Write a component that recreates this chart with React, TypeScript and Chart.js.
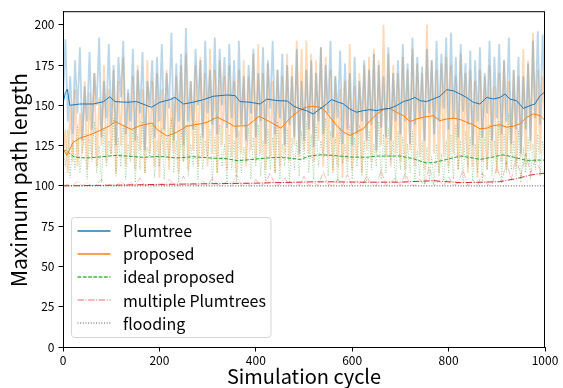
import React, { useEffect, useRef } from "react";
import { Chart, registerables } from "chart.js";

Chart.register(...registerables);

const FONT = '"Noto Sans CJK JP", "Noto Sans", "DejaVu Sans", sans-serif';

const xTickValues = [0, 200, 400, 600, 800, 1000];
const yTickValues = [0, 25, 50, 75, 100, 125, 150, 175, 200];
const xAxisTitle = "Simulation cycle";
const yAxisTitle = "Maximum path length";
const seriesNames = ["Plumtree", "proposed", "ideal proposed", "multiple Plumtrees", "flooding"];

// raw (faint) series, one value every 5 cycles
const rawStep = 5;
const plumtreeRaw = [
  155, 191, 140, 168, 132, 178, 145, 186, 128, 162,
  140, 183, 135, 170, 150, 192, 130, 165, 142, 188,
  138, 175, 125, 180, 155, 190, 132, 160, 140, 185,
  128, 172, 145, 183, 122, 165, 150, 178, 130, 180,
  140, 188, 135, 170, 148, 195, 128, 176, 140, 182,
  125, 198, 140, 165, 135, 185, 150, 178, 130, 190,
  145, 172, 138, 192, 132, 185, 150, 180, 136, 188,
  142, 178, 130, 190, 138, 168, 128, 175, 145, 185,
  130, 170, 140, 186, 126, 178, 148, 190, 132, 172,
  142, 182, 125, 175, 138, 168, 130, 185, 120, 165,
  128, 172, 135, 178, 124, 170, 140, 186, 132, 175,
  145, 190, 130, 168, 142, 184, 126, 176, 135, 170,
  125, 180, 132, 165, 140, 178, 128, 172, 138, 182,
  122, 175, 136, 168, 130, 186, 128, 170, 140, 178,
  132, 188, 140, 176, 126, 192, 138, 180, 142, 174,
  128, 185, 145, 178, 132, 190, 140, 182, 148, 192,
  135, 195, 142, 180, 130, 188, 146, 176, 138, 184,
  125, 178, 140, 186, 130, 170, 145, 190, 128, 180,
  142, 188, 132, 178, 140, 192, 126, 172, 135, 180,
  120, 168, 135, 176, 128, 190, 142, 196, 138, 194,
  150,
];
const proposedRaw = [
  118, 135, 108, 150, 115, 160, 112, 145, 120, 165,
  110, 158, 118, 170, 112, 155, 125, 175, 115, 160,
  120, 172, 108, 165, 125, 180, 112, 158, 118, 168,
  110, 175, 122, 160, 108, 178, 120, 165, 112, 170,
  105, 160, 118, 172, 110, 155, 120, 168, 108, 175,
  115, 182, 110, 165, 122, 175, 112, 180, 118, 170,
  112, 185, 120, 172, 108, 178, 125, 168, 110, 175,
  118, 165, 108, 172, 120, 178, 112, 168, 122, 182,
  115, 188, 120, 170, 110, 176, 118, 165, 108, 172,
  112, 168, 120, 182, 115, 175, 125, 190, 118, 185,
  122, 190, 120, 182, 115, 178, 128, 186, 112, 180,
  118, 172, 108, 168, 112, 160, 105, 165, 115, 188,
  110, 162, 118, 170, 108, 175, 122, 180, 115, 185,
  120, 178, 125, 200, 118, 182, 112, 175, 120, 170,
  115, 180, 110, 172, 122, 185, 112, 176, 118, 170,
  110, 200, 115, 178, 120, 172, 108, 176, 118, 180,
  112, 175, 120, 168, 110, 182, 118, 170, 108, 172,
  112, 165, 105, 172, 115, 168, 110, 175, 118, 162,
  108, 170, 115, 178, 110, 165, 120, 172, 112, 168,
  118, 185, 112, 178, 122, 195, 115, 172, 120, 168,
  140,
];
const idealRaw = [
  125, 112, 135, 105, 128, 110, 138, 108, 122, 132,
  104, 130, 115, 140, 108, 125, 102, 136, 112, 128,
  118, 142, 106, 130, 112, 138, 104, 126, 115, 135,
  102, 132, 110, 140, 108, 124, 118, 138, 105, 128,
  112, 136, 104, 130, 116, 142, 108, 128, 102, 134,
  115, 138, 106, 126, 112, 140, 104, 132, 110, 128,
  118, 135, 102, 130, 108, 138, 112, 126, 104, 132,
  110, 128, 102, 134, 108, 124, 115, 136, 104, 130,
  112, 138, 106, 128, 102, 135, 110, 130, 108, 140,
  104, 126, 112, 136, 102, 130, 110, 128, 106, 134,
  115, 140, 108, 132, 104, 138, 112, 128, 118, 142,
  106, 134, 110, 130, 102, 136, 114, 126, 108, 138,
  104, 130, 112, 138, 106, 128, 102, 134, 110, 126,
  112, 140, 104, 132, 108, 136, 115, 128, 102, 134,
  110, 130, 104, 126, 108, 134, 102, 122, 106, 128,
  101, 124, 104, 118, 102, 126, 106, 120, 103, 128,
  108, 132, 104, 138, 110, 128, 102, 134, 112, 130,
  104, 126, 108, 136, 102, 130, 110, 138, 106, 128,
  112, 140, 104, 132, 108, 145, 110, 128, 106, 134,
  102, 124, 108, 130, 104, 126, 110, 132, 106, 128,
  116,
];
// one value every 10 cycles
const multiStep = 10;
const multiRaw = [
  100, 101, 100, 103, 100, 102, 100, 101, 104, 100,
  101, 100, 103, 100, 102, 100, 105, 100, 101, 100,
  102, 100, 104, 101, 100, 106, 100, 102, 100, 103,
  100, 105, 101, 100, 103, 100, 107, 100, 102, 100,
  104, 100, 102, 108, 100, 101, 105, 100, 103, 100,
  106, 100, 102, 100, 109, 101, 100, 104, 100, 107,
  100, 103, 100, 106, 101, 100, 110, 100, 102, 105,
  100, 108, 101, 100, 104, 100, 112, 100, 103, 100,
  106, 100, 102, 110, 100, 104, 100, 108, 101, 100,
  112, 102, 115, 104, 118, 106, 120, 108, 116, 110,
  108,
];

// smoothed series (cycle, value)
const plumtreeSmoothX = [0, 5, 9, 14, 35, 63, 84, 97, 108, 132, 153, 174, 184, 201, 222, 232, 250, 270, 291, 312, 340, 357, 367, 388, 409, 423, 444, 465, 479, 493, 505, 519, 533, 547, 557, 568, 582, 595, 609, 623, 637, 651, 665, 678, 692, 706, 720, 730, 741, 754, 768, 782, 796, 810, 824, 837, 851, 865, 879, 893, 907, 917, 927, 941, 955, 969, 979, 990, 1000];
const plumtreeSmoothY = [151, 158, 160, 150, 150.8, 150.8, 152.3, 155.3, 152.3, 151.9, 152.3, 149.8, 148.8, 151.9, 153.5, 154.9, 150.8, 151.9, 153.5, 155.6, 156.4, 156, 152.3, 151.9, 150.8, 153.9, 152.9, 152.7, 149.4, 147.7, 146.7, 144.6, 147.7, 150.8, 153.5, 152.3, 150.8, 147.7, 145.7, 146.7, 147.3, 146.7, 147.7, 148.1, 149.8, 152.3, 153.5, 154.9, 152.9, 152.3, 153.9, 155.6, 159.7, 159, 157, 154.9, 151.9, 150.8, 154.9, 153.9, 154.9, 157, 153.9, 152.9, 148.1, 149.8, 150.8, 156, 158.4];
const proposedSmoothX = [0, 4, 8, 21, 35, 56, 77, 98, 108, 132, 142, 160, 185, 195, 216, 236, 257, 285, 299, 320, 341, 355, 383, 407, 431, 452, 473, 493, 505, 519, 533, 543, 554, 568, 582, 595, 609, 623, 637, 651, 665, 678, 692, 706, 720, 734, 748, 768, 782, 796, 810, 824, 837, 851, 865, 879, 893, 907, 920, 934, 948, 962, 976, 990, 1000];
const proposedSmoothY = [123, 121, 119, 127, 129.6, 131.7, 134.4, 137.4, 139.9, 136.4, 135, 137.4, 139, 135, 130.9, 133.3, 137, 138.5, 139.5, 142.6, 139.5, 137, 137.4, 143.2, 139.5, 135.8, 142.6, 147.3, 148.8, 149.4, 148.8, 146.7, 142.6, 137.4, 133.3, 131.3, 133.3, 135.4, 140.5, 144.6, 147.3, 148.1, 145.7, 143.6, 139.9, 141.5, 142.6, 143.6, 140.5, 141.5, 142, 141.2, 139.5, 137.9, 135.4, 135.8, 137.4, 137.9, 136.4, 137, 138.5, 142.6, 144.6, 143.6, 140.5];
const idealSmoothX = [0, 6, 23, 47, 75, 110, 132, 167, 201, 236, 270, 305, 340, 361, 388, 423, 450, 479, 492, 512, 533, 561, 595, 630, 650, 699, 726, 754, 768, 796, 824, 851, 865, 893, 913, 934, 962, 990, 1000];
const idealSmoothY = [121, 122, 117.9, 117.3, 117.9, 118.9, 118.5, 117.7, 118.3, 117.3, 118.1, 117.3, 116.9, 115.6, 116.3, 117.3, 117.7, 116.9, 116.4, 118.5, 119.3, 118.9, 117.9, 117.7, 118.5, 118.5, 116.9, 114.2, 114.4, 116.4, 118.5, 117.3, 116.4, 117.9, 119.3, 117.9, 115.8, 116, 116];
const multiSmoothX = [0, 100, 200, 300, 400, 460, 520, 560, 620, 700, 768, 824, 872, 906, 941, 968, 990, 1000];
const multiSmoothY = [100, 100.4, 100.9, 101.3, 101.7, 102.1, 102.5, 102.5, 102.3, 102.3, 103.2, 102, 102.3, 102.6, 104.5, 106.6, 107.6, 107.8];
const floodingX = [0, 1000];
const floodingY = [100, 100];

const COLORS = {
  blue: "#1f77b4",
  orange: "#ff7f0e",
  green: "#2ca02c",
  red: "#d62728",
  gray: "#555555",
};
const DASHED = [3.7, 1.6];
const DASHDOT = [6.4, 1.6, 1, 1.6];
const DOTTED = [1, 1.65];

function pairs(xs: number[], ys: number[]) {
  return ys.map((y, i) => ({ x: xs[i], y }));
}
function stepped(step: number, ys: number[]) {
  return ys.map((y, i) => ({ x: i * step, y }));
}

const legendStyles = [
  { color: COLORS.blue, dash: [] as number[], width: 1.5 },
  { color: COLORS.orange, dash: [] as number[], width: 1.5 },
  { color: "#3cb83c", dash: DASHED, width: 1.5 },
  { color: "rgba(214,39,40,0.45)", dash: DASHDOT, width: 1.5 },
  { color: COLORS.gray, dash: DOTTED, width: 1.2 },
];

const decorPlugin = {
  id: "decor",
  afterDraw(chart: any) {
    const { ctx, chartArea } = chart;
    const { left, right, top, bottom } = chartArea;
    ctx.save();
    // frame
    ctx.strokeStyle = "#000";
    ctx.lineWidth = 1;
    ctx.setLineDash([]);
    ctx.strokeRect(left + 0.5, top + 0.5, right - left - 1, bottom - top);

    // axis titles
    ctx.fillStyle = "#000";
    ctx.font = `20px ${FONT}`;
    ctx.textAlign = "center";
    ctx.textBaseline = "middle";
    ctx.fillText(xAxisTitle, (left + right) / 2, 376);
    ctx.save();
    ctx.translate(19, 180);
    ctx.rotate(-Math.PI / 2);
    ctx.font = `21px ${FONT}`;
    ctx.fillText(yAxisTitle, 0, 0);
    ctx.restore();

    // legend
    const bx = 71.5, by = 217.5, bw = 199.5, bh = 120;
    const r = 3;
    ctx.beginPath();
    ctx.moveTo(bx + r, by);
    ctx.lineTo(bx + bw - r, by);
    ctx.quadraticCurveTo(bx + bw, by, bx + bw, by + r);
    ctx.lineTo(bx + bw, by + bh - r);
    ctx.quadraticCurveTo(bx + bw, by + bh, bx + bw - r, by + bh);
    ctx.lineTo(bx + r, by + bh);
    ctx.quadraticCurveTo(bx, by + bh, bx, by + bh - r);
    ctx.lineTo(bx, by + r);
    ctx.quadraticCurveTo(bx, by, bx + r, by);
    ctx.closePath();
    ctx.fillStyle = "rgba(255,255,255,0.8)";
    ctx.fill();
    ctx.strokeStyle = "#d6d6d6";
    ctx.lineWidth = 1;
    ctx.stroke();

    ctx.font = `16px ${FONT}`;
    ctx.textAlign = "left";
    ctx.textBaseline = "middle";
    const rowY = [230.7, 253.7, 276.7, 300, 323.3];
    seriesNames.forEach((name, i) => {
      const st = legendStyles[i];
      const y = Math.round(rowY[i]);
      ctx.beginPath();
      ctx.setLineDash(st.dash);
      ctx.strokeStyle = st.color;
      ctx.lineWidth = st.width;
      ctx.moveTo(77.5, y);
      ctx.lineTo(110.5, y);
      ctx.stroke();
      ctx.setLineDash([]);
      ctx.fillStyle = "#000";
      ctx.fillText(name, 123, rowY[i] + 0.5);
    });
    ctx.restore();
  },
};

export default function App() {
  const canvasRef = useRef<HTMLCanvasElement | null>(null);

  useEffect(() => {
    const canvas = canvasRef.current;
    if (!canvas) return;
    const line = (data: any[], color: string, width: number, dash: number[], order: number) => ({
      data,
      borderColor: color,
      backgroundColor: color,
      borderWidth: width,
      borderDash: dash,
      pointRadius: 0,
      fill: false,
      tension: 0,
      order,
    });
    const chart = new Chart(canvas, {
      type: "line",
      data: {
        datasets: [
          line(stepped(rawStep, plumtreeRaw), "rgba(31,119,180,0.3)", 1.8, [], 3),
          line(stepped(rawStep, proposedRaw), "rgba(255,127,14,0.3)", 1.8, [], 3),
          line(stepped(rawStep, idealRaw), "rgba(44,160,44,0.45)", 1, DOTTED, 2),
          line(stepped(multiStep, multiRaw), "rgba(214,39,40,0.3)", 1, DASHDOT, 2),
          line(pairs(plumtreeSmoothX, plumtreeSmoothY), COLORS.blue, 1, [], 0),
          line(pairs(proposedSmoothX, proposedSmoothY), COLORS.orange, 1, [], 0),
          line(pairs(idealSmoothX, idealSmoothY), COLORS.green, 1, DASHED, 0),
          line(pairs(multiSmoothX, multiSmoothY), COLORS.red, 1, DASHDOT, 0),
          line(pairs(floodingX, floodingY), COLORS.gray, 1, DOTTED, 0),
        ],
      },
      options: {
        animation: false,
        responsive: false,
        maintainAspectRatio: false,
        parsing: false as any,
        normalized: true,
        layout: { padding: { top: 8, right: 18, left: 0, bottom: 0 } },
        plugins: { legend: { display: false }, tooltip: { enabled: false } },
        scales: {
          x: {
            type: "linear",
            min: 0,
            max: 1000,
            afterBuildTicks: (s: any) => {
              s.ticks = xTickValues.map((v) => ({ value: v }));
            },
            afterFit: (s: any) => {
              s.height = 41;
            },
            grid: { drawOnChartArea: false, tickLength: 4.5, color: "#000", tickColor: "#000" },
            border: { color: "#000", width: 1 },
            ticks: {
              font: { family: FONT, size: 12 },
              color: "#000",
              padding: 2,
              maxRotation: 0,
              autoSkip: false,
              callback: (v: any) => String(v),
            },
          },
          y: {
            type: "linear",
            min: 0,
            max: 208.4,
            afterBuildTicks: (s: any) => {
              s.ticks = yTickValues.map((v) => ({ value: v }));
            },
            afterFit: (s: any) => {
              s.width = 63;
            },
            grid: { drawOnChartArea: false, tickLength: 4.5, color: "#000", tickColor: "#000" },
            border: { color: "#000", width: 1 },
            ticks: {
              font: { family: FONT, size: 12 },
              color: "#000",
              padding: 4,
              autoSkip: false,
              callback: (v: any) => String(v),
            },
          },
        },
      },
      plugins: [decorPlugin],
    } as any);
    return () => chart.destroy();
  }, []);

  return (
    <div style={{ position: "fixed", left: 0, top: 0, width: 563, height: 388, background: "#fff" }}>
      <canvas ref={canvasRef} width={563} height={388} style={{ width: 563, height: 388 }} />
    </div>
  );
}
